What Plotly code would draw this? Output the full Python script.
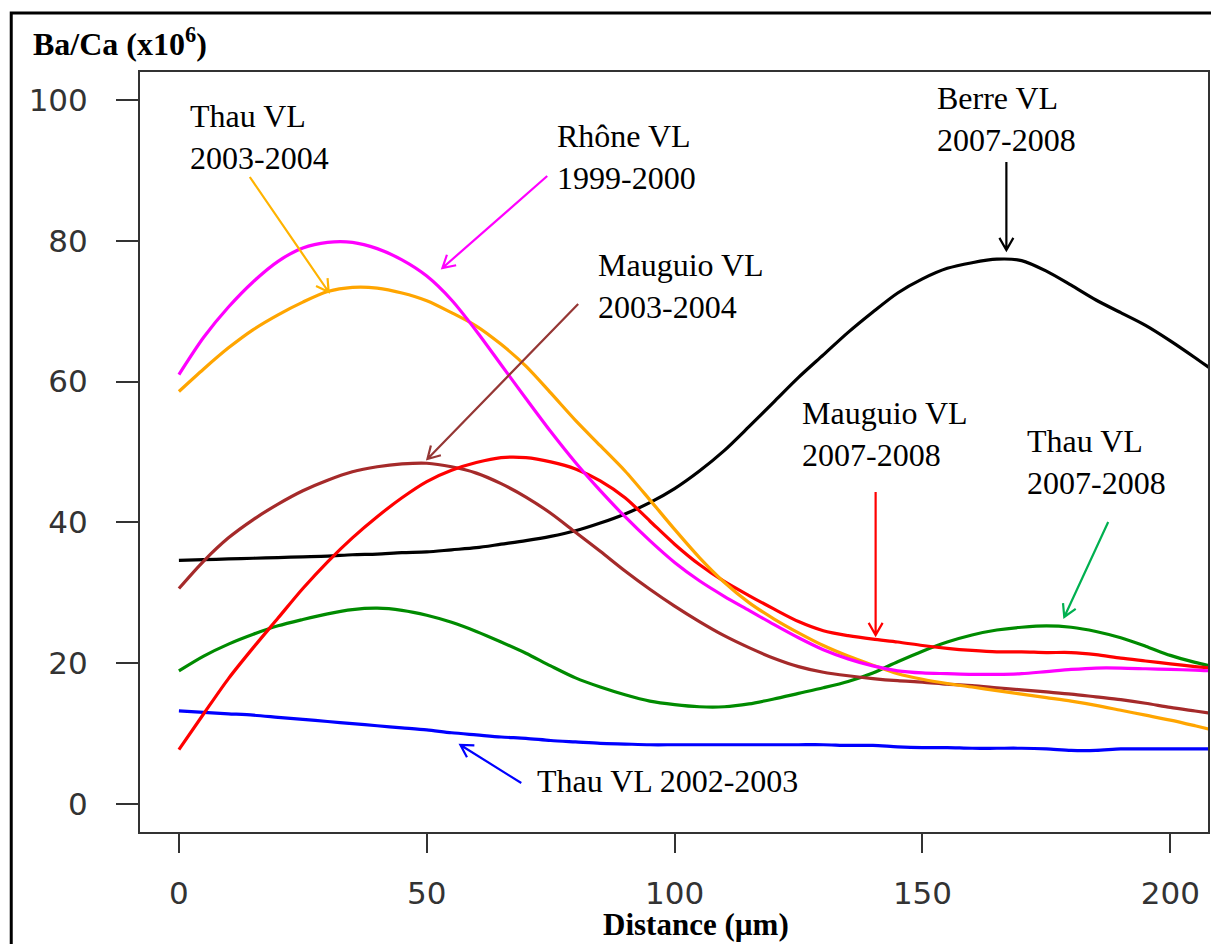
import math
import plotly.graph_objects as go

# ---------------- data ----------------
distance = [0, 5, 10, 15, 20, 25, 30, 35, 40, 45, 50, 55, 60, 65, 70, 75, 80, 85, 90, 95,
            100, 105, 110, 115, 120, 125, 130, 135, 140, 145, 150, 155, 160, 165, 170, 175,
            180, 185, 190, 195, 200, 205, 208]

rhone_1999 = [61.0, 66.3, 70.6, 74.2, 77.1, 79.0, 79.8, 79.8, 78.9, 77.3, 75.0, 71.6, 67.2, 62.4,
              57.6, 52.9, 48.5, 44.5, 40.8, 37.4, 34.3, 31.7, 29.5, 27.5, 25.5, 23.6, 21.9, 20.6,
              19.6, 18.9, 18.6, 18.5, 18.4, 18.4, 18.5, 18.8, 19.1, 19.3, 19.3, 19.2, 19.1, 19.0, 18.9]

thau_2003 = [58.6, 61.8, 64.8, 67.4, 69.5, 71.3, 72.8, 73.4, 73.3, 72.6, 71.5, 69.8, 67.9, 65.3,
             62.2, 58.4, 54.5, 50.9, 47.3, 43.2, 39.0, 35.0, 31.5, 28.6, 26.3, 24.3, 22.5, 21.0,
             19.7, 18.5, 17.7, 17.1, 16.6, 16.1, 15.6, 15.1, 14.6, 14.0, 13.3, 12.6, 11.9, 11.1, 10.6]

berre_2007 = [34.6, 34.7, 34.8, 34.9, 35.0, 35.1, 35.2, 35.4, 35.5, 35.7, 35.8, 36.1, 36.4, 36.9,
              37.4, 38.0, 38.8, 39.9, 41.2, 42.8, 44.8, 47.3, 50.2, 53.6, 57.1, 60.6, 63.8, 67.0,
              69.9, 72.6, 74.6, 76.1, 76.9, 77.4, 77.2, 75.7, 73.7, 71.6, 69.8, 68.0, 65.8, 63.4, 61.9]

mauguio_2003 = [30.6, 34.5, 37.8, 40.4, 42.6, 44.5, 46.0, 47.2, 47.9, 48.3, 48.4, 47.9, 47.0, 45.5,
                43.6, 41.3, 38.6, 35.9, 33.1, 30.5, 28.1, 25.9, 23.9, 22.2, 20.7, 19.5, 18.7, 18.2,
                17.8, 17.5, 17.3, 17.0, 16.8, 16.5, 16.2, 15.9, 15.6, 15.2, 14.8, 14.3, 13.7, 13.2, 12.9]

mauguio_2007 = [7.7, 12.8, 17.8, 22.2, 26.4, 30.6, 34.4, 37.8, 40.8, 43.5, 45.8, 47.4, 48.5, 49.2,
                49.2, 48.6, 47.6, 45.9, 43.5, 40.2, 36.9, 34.0, 31.6, 29.6, 27.7, 25.9, 24.6, 23.9,
                23.4, 23.0, 22.5, 22.1, 21.8, 21.6, 21.6, 21.5, 21.5, 21.2, 20.7, 20.3, 19.9, 19.5, 19.3]

thau_2007 = [18.9, 21.0, 22.7, 24.1, 25.3, 26.2, 27.0, 27.6, 27.8, 27.5, 26.8, 25.8, 24.5, 23.0,
             21.4, 19.6, 17.9, 16.6, 15.5, 14.6, 14.1, 13.8, 13.8, 14.2, 14.9, 15.7, 16.5, 17.4,
             18.6, 20.2, 21.7, 23.0, 24.0, 24.7, 25.1, 25.3, 25.1, 24.5, 23.6, 22.4, 21.1, 20.1, 19.6]

thau_2002 = [13.2, 13.0, 12.8, 12.6, 12.3, 12.0, 11.7, 11.4, 11.1, 10.8, 10.5, 10.1, 9.8, 9.5,
             9.3, 9.0, 8.8, 8.6, 8.5, 8.4, 8.4, 8.4, 8.4, 8.4, 8.4, 8.4, 8.4, 8.3,
             8.3, 8.1, 8.0, 8.0, 7.9, 7.9, 7.9, 7.8, 7.6, 7.6, 7.8, 7.8, 7.8, 7.8, 7.8]

x_ticks = [0, 50, 100, 150, 200]
y_ticks = [0, 20, 40, 60, 80, 100]

series = [
    ("Berre VL 2007-2008", berre_2007, "#000000"),
    ("Thau VL 2002-2003", thau_2002, "#0000FF"),
    ("Thau VL 2007-2008", thau_2007, "#008B00"),
    ("Mauguio VL 2003-2004", mauguio_2003, "#A52A2A"),
    ("Mauguio VL 2007-2008", mauguio_2007, "#FF0000"),
    ("Thau VL 2003-2004", thau_2003, "#FFA500"),
    ("Rhône VL 1999-2000", rhone_1999, "#FF00FF"),
]

# ---------------- layout geometry ----------------
W, H = 1211, 944
L, R, T, B = 140, 1, 72, 112
PW, PH = W - L - R, H - T - B
XR = [-7.85, 207.6]
YR = [-4.0, 104.0]


def px_x(px):
    return XR[0] + (px - L) * (XR[1] - XR[0]) / PW


def px_y(py):
    return YR[1] - (py - T) * (YR[1] - YR[0]) / PH


def paper_x(px):
    return (px - L) / PW


def paper_y(py):
    return (H - B - py) / PH


fig = go.Figure()
for name, vals, col in series:
    fig.add_trace(go.Scatter(x=distance, y=vals, mode="lines", name=name,
                             line=dict(color=col, width=3.2, shape="spline", smoothing=0.8),
                             showlegend=False))

shapes = []


def arrow(tail, tip, color, head=14, ang=30):
    (x0, y0), (x1, y1) = tail, tip
    dx, dy = x1 - x0, y1 - y0
    n = math.hypot(dx, dy)
    ux, uy = dx / n, dy / n
    pts = []
    for s in (1, -1):
        a = math.radians(ang) * s
        bx = -ux * math.cos(a) - uy * math.sin(a)
        by = -uy * math.cos(a) + ux * math.sin(a)
        pts.append((x1 + head * bx, y1 + head * by))
    path = (f"M{px_x(x0)},{px_y(y0)} L{px_x(x1)},{px_y(y1)} "
            f"M{px_x(pts[0][0])},{px_y(pts[0][1])} L{px_x(x1)},{px_y(y1)} "
            f"L{px_x(pts[1][0])},{px_y(pts[1][1])}")
    shapes.append(dict(type="path", path=path, xref="x", yref="y",
                       line=dict(color=color, width=2.2), layer="above"))


arrow((250, 177), (329, 292), "#FFB300")
arrow((548, 176), (443, 268), "#FF00FF")
arrow((579, 304), (428, 459), "#953735")
arrow((1008, 162), (1008, 250), "#000000")
arrow((877, 492), (877, 635), "#FF0000")
arrow((1110, 522), (1066, 617), "#00B050")
arrow((522, 783), (461, 745), "#0000FF")

# outer frame
shapes.append(dict(type="rect", xref="paper", yref="paper",
                   x0=paper_x(11), x1=paper_x(1260), y0=paper_y(13), y1=paper_y(1000),
                   line=dict(color="#000000", width=3), fillcolor="rgba(0,0,0,0)", layer="above"))

serif = "Liberation Serif, Times New Roman, serif"
labels = [
    ("Thau VL<br>2003-2004", 189, 107),
    ("Rhône VL<br>1999-2000", 557, 127),
    ("Berre VL<br>2007-2008", 937, 89),
    ("Mauguio VL<br>2003-2004", 598, 256),
    ("Mauguio VL<br>2007-2008", 802, 404),
    ("Thau VL<br>2007-2008", 1028, 432),
    ("Thau VL 2002-2003", 537, 772),
]
annotations = []
for txt, lx, cap_top in labels:
    annotations.append(dict(text=txt, xref="paper", yref="paper",
                            x=paper_x(lx - 1), y=paper_y(cap_top - 11),
                            xanchor="left", yanchor="top", align="left", showarrow=False,
                            font=dict(family=serif, size=32, color="#000000")))

annotations.append(dict(text="<b>Ba/Ca (x10<sup>6</sup>)</b>", xref="paper", yref="paper",
                        x=paper_x(31), y=paper_y(20), xanchor="left", yanchor="top",
                        showarrow=False, font=dict(family=serif, size=32, color="#000000")))
annotations.append(dict(text="<b>Distance (µm)</b>", xref="paper", yref="paper",
                        x=paper_x(697), y=paper_y(905), xanchor="center", yanchor="top",
                        showarrow=False, font=dict(family=serif, size=31, color="#000000")))

axis_common = dict(showgrid=False, zeroline=False, showline=True, mirror=True,
                   linecolor="#333333", linewidth=2, ticks="outside", tickwidth=2,
                   tickcolor="#333333",
                   tickfont=dict(family="DejaVu Sans", size=31, color="#333333"))

fig.update_layout(
    width=W, height=H,
    margin=dict(l=L, r=R, t=T, b=B, pad=0),
    paper_bgcolor="white", plot_bgcolor="white",
    xaxis=dict(range=XR, tickvals=x_ticks, ticklen=19, ticklabelstandoff=14, **axis_common),
    yaxis=dict(range=YR, tickvals=y_ticks, ticklen=22, ticklabelstandoff=22, **axis_common),
    shapes=shapes, annotations=annotations,
)

fig.write_html("out.html")
